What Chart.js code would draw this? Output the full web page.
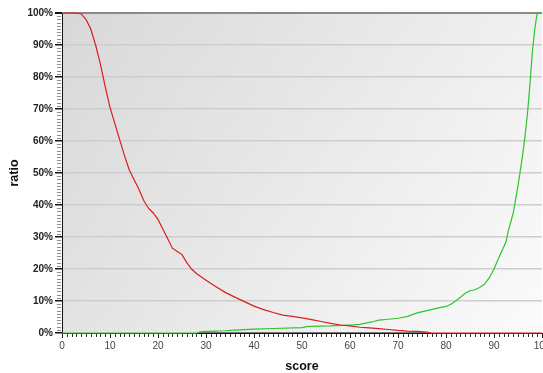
<!DOCTYPE html>
<html>
<head>
<meta charset="utf-8">
<script src="https://cdn.jsdelivr.net/npm/chart.js@4"></script>
<style>
html,body{margin:0;padding:0;background:#fff;}
#wrap{width:543px;height:373px;}
</style>
</head>
<body>
<div id="wrap"><canvas id="c" width="543" height="373"></canvas></div>
<script>
const redScores = [0,3,4,5,6,7,8,9,10,11,12,13,14,15,16,17,18,19,20,21,22,23,24,25,26,27,28,30,32,34,36,38,40,42,44,46,48,50,52,54,56,58,60,62,64,66,68,70,72,74,76,77,100];
const redRatio  = [100,100,99.7,98,95,90,84,77,70.5,65.5,60.5,55.5,51,48,45,41.5,39,37.5,35.5,32.5,29.5,26.5,25.5,24.5,22,20,18.6,16.5,14.5,12.7,11.2,9.8,8.4,7.3,6.4,5.6,5.2,4.7,4.2,3.6,3.0,2.5,2.2,1.8,1.6,1.35,1.1,0.8,0.6,0.5,0.3,0,0];
const greenScores = [0,28,29,32,34,36,40,44,50,51,52,56,60,62,64,65,66,68,70,72,74,76,78,80,81,82,83,84,85,86,87,88,89,90,91,92,92.5,93,94,95,96,96.5,97,97.5,98,98.5,99,100];
const greenRatio  = [0,0,0.4,0.6,0.7,0.9,1.2,1.4,1.7,2.0,2.1,2.2,2.5,2.7,3.3,3.6,4.0,4.3,4.6,5.2,6.3,7.0,7.7,8.3,9.0,10.0,11.2,12.4,13.2,13.5,14.2,15.2,17.2,20,23.5,26.8,28.5,32,37.5,46,56,62,69,78,88,95,100,100];
const blackScores = [28.5,76];
const blackRatio  = [0,0];
const xTicks = [0,10,20,30,40,50,60,70,80,90,100];
const yTicks = [0,10,20,30,40,50,60,70,80,90,100];

const toPts = (xs, ys) => xs.map((x, i) => ({x: x, y: ys[i]}));
const FONT = "'Liberation Sans', Arial, sans-serif";

const bgPlugin = {
  id: 'bg',
  beforeDraw(chart) {
    const {ctx, chartArea: a} = chart;
    const g = ctx.createLinearGradient(a.left, a.top, a.right, a.bottom);
    g.addColorStop(0, '#d8d8d8');
    g.addColorStop(1, '#fbfbfb');
    ctx.save();
    ctx.fillStyle = g;
    ctx.fillRect(a.left, a.top, a.right - a.left, a.bottom - a.top);
    ctx.restore();
  }
};

const minorTicks = {
  id: 'minorTicks',
  afterDraw(chart) {
    const ctx = chart.ctx;
    const xs = chart.scales.x, ys = chart.scales.y;
    const a = chart.chartArea;
    ctx.save();
    ctx.lineWidth = 1;
    ctx.strokeStyle = '#8a8a8a';
    for (let v = 0; v <= 100; v++) {
      if (v % 10 === 0) continue;
      const py = Math.round(ys.getPixelForValue(v)) + 0.5;
      ctx.beginPath();
      ctx.moveTo(a.left - 5, py);
      ctx.lineTo(a.left - 1, py);
      ctx.stroke();
    }
    ctx.strokeStyle = '#333';
    for (let v = 0; v <= 100; v++) {
      if (v % 10 === 0) continue;
      const px = Math.round(xs.getPixelForValue(v)) + 0.5;
      ctx.beginPath();
      ctx.moveTo(px, a.bottom + 1);
      ctx.lineTo(px, a.bottom + 4);
      ctx.stroke();
    }
    ctx.restore();
  }
};

new Chart(document.getElementById('c'), {
  type: 'line',
  data: {
    datasets: [
      {label: 'black', data: toPts(blackScores, blackRatio), borderColor: '#000', borderWidth: 1.2, pointRadius: 0, clip: 3, order: 3},
      {label: 'green', data: toPts(greenScores, greenRatio), borderColor: '#2ec52e', borderWidth: 1.2, pointRadius: 0, clip: 3, order: 2},
      {label: 'red', data: toPts(redScores, redRatio), borderColor: '#d81e1e', borderWidth: 1.2, pointRadius: 0, clip: 3, order: 1}
    ]
  },
  options: {
    responsive: false,
    animation: false,
    events: [],
    layout: {padding: {top: 13, right: 1, left: 0, bottom: 0}},
    plugins: {legend: {display: false}, tooltip: {enabled: false}},
    scales: {
      x: {
        type: 'linear', min: 0, max: 100,
        afterBuildTicks(s) { s.ticks = xTicks.map(v => ({value: v})); },
        afterFit(s) { s.height = 40; s.paddingLeft = 0; s.paddingRight = 0; },
        ticks: {color: '#444', font: {family: FONT, size: 10}, padding: 2, maxRotation: 0, autoSkip: false},
        grid: {drawOnChartArea: false, tickLength: 5, tickColor: '#222'},
        border: {color: '#222', width: 1},
        title: {display: true, text: 'score', color: '#111', font: {family: FONT, size: 12.5, weight: 'bold'}, padding: {top: 4, bottom: -1}}
      },
      y: {
        type: 'linear', min: 0, max: 100,
        afterBuildTicks(s) { s.ticks = yTicks.map(v => ({value: v})); },
        afterFit(s) { s.width = 62; s.paddingTop = 0; s.paddingBottom = 0; },
        ticks: {color: '#222', font: {family: FONT, size: 10, weight: 'bold'}, padding: 2, callback: v => v + '%'},
        grid: {
          tickLength: 7,
          tickColor: '#111',
          color: c => (c.tick && c.tick.value === 100) ? '#8a8a8a' : (c.tick && c.tick.value === 0 ? 'rgba(0,0,0,0)' : '#cdcdcd'),
          lineWidth: c => (c.tick && c.tick.value === 100) ? 2 : 1.5
        },
        border: {color: '#111', width: 1},
        title: {display: true, text: 'ratio', color: '#111', font: {family: FONT, size: 12.5, weight: 'bold'}, padding: {top: 7, bottom: 0}}
      }
    }
  },
  plugins: [bgPlugin, minorTicks]
});
</script>
</body>
</html>
